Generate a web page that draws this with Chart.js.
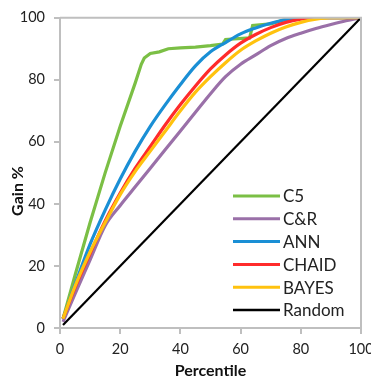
<!DOCTYPE html>
<html lang="en">
<head>
    <meta charset="UTF-8">
    <title>Gain chart</title>
    <script src="https://cdn.jsdelivr.net/npm/chart.js"></script>
    <style>
        body { margin: 0; background: #fff; }
    </style>
</head>
<body>
    <canvas id="myChart" width="371" height="378"></canvas>
    <script>
        // series labels
        const seriesNames = ['C5', 'C&R', 'ANN', 'CHAID', 'BAYES', 'Random'];

        // shared percentile grid for the smooth curves
        const percentiles = [1, 5, 10, 15, 20, 25, 30, 35, 40, 45, 50, 55, 60, 65, 70, 75, 80, 85, 90, 95, 100];
        const crGain    = [2, 11, 22, 33, 39.5, 45.5, 51.5, 57.5, 63.5, 69.5, 75.5, 81, 85, 88, 91, 93.3, 95, 96.5, 97.8, 99, 100];
        const annGain   = [3, 14, 27, 38, 48, 57, 65, 72, 78.5, 84.5, 89, 92, 94.8, 96.7, 98.2, 99.4, 100, 100, 100, 100, 100];
        const chaidGain = [3, 13, 24, 34.5, 43.5, 51.5, 58.5, 65.5, 72, 78, 83.5, 88, 91.8, 94.6, 96.8, 98.5, 99.5, 100, 100, 100, 100];
        const bayesGain = [3, 13.5, 24.5, 34, 43, 50.5, 57, 63.5, 70, 76, 81, 85.5, 89.5, 92.5, 95, 97, 98.5, 99.5, 100, 100, 100];

        // C5 has its own steps
        const c5Pct  = [1, 5, 10, 15, 20, 25, 27, 28, 30, 33, 36, 40, 45, 50, 54, 55, 63, 64, 70, 75, 80, 100];
        const c5Gain = [3, 17, 34, 50, 65, 79, 85, 87, 88.5, 89, 90, 90.3, 90.5, 91, 91.5, 93, 93.5, 97.5, 98, 99.5, 100, 100];

        const randomPct  = [1, 100];
        const randomGain = [1, 100];

        const xTicks = [0, 20, 40, 60, 80, 100];
        const yTicks = [0, 20, 40, 60, 80, 100];

        const colors = ['#7bbf45', '#9a70a8', '#1a8fd5', '#ff2b2b', '#ffc20e', '#000000'];

        function pts(xs, ys) {
            return xs.map((x, i) => ({ x: x, y: ys[i] }));
        }

        const seriesData = [
            pts(c5Pct, c5Gain),
            pts(percentiles, crGain),
            pts(percentiles, annGain),
            pts(percentiles, chaidGain),
            pts(percentiles, bayesGain),
            pts(randomPct, randomGain)
        ];

        const font = 'Lato, "Open Sans", sans-serif';

        // legend inside the plot + y title + frame
        const extras = {
            id: 'extras',
            afterDatasetsDraw(chart) {
                const ctx = chart.ctx;
                const a = chart.chartArea;
                ctx.save();
                ctx.strokeStyle = '#bfbfbf';
                ctx.lineWidth = 2;
                ctx.beginPath();
                ctx.moveTo(a.left, a.top);
                ctx.lineTo(a.right, a.top);
                ctx.lineTo(a.right, a.bottom);
                ctx.stroke();

                chart.data.datasets.forEach((ds, i) => {
                    const y = 196 + i * 22.8;
                    ctx.strokeStyle = ds.borderColor;
                    ctx.lineWidth = i === 5 ? 2.5 : 3;
                    ctx.beginPath();
                    ctx.moveTo(233, y);
                    ctx.lineTo(280, y);
                    ctx.stroke();
                    ctx.fillStyle = '#222';
                    ctx.font = '17px ' + font;
                    ctx.textBaseline = 'middle';
                    ctx.textAlign = 'left';
                    ctx.fillText(ds.label, 283, y + 1);
                });

                ctx.translate(18, 191);
                ctx.rotate(-Math.PI / 2);
                ctx.font = 'bold 16px ' + font;
                ctx.fillStyle = '#111';
                ctx.textAlign = 'center';
                ctx.textBaseline = 'middle';
                ctx.fillText('Gain %', 0, 0);
                ctx.restore();
            }
        };

        const ctx = document.getElementById('myChart');
        const myChart = new Chart(ctx, {
            type: 'line',
            data: {
                datasets: seriesNames.map((name, i) => ({
                    label: name,
                    data: seriesData[i],
                    borderColor: colors[i],
                    borderWidth: i === 5 ? 2.2 : 3.2,
                    pointRadius: 0,
                    fill: false,
                    tension: 0,
                    cubicInterpolationMode: (i === 0 || i === 5) ? 'default' : 'monotone',
                    order: 6 - i
                }))
            },
            options: {
                responsive: false,
                animation: false,
                events: [],
                layout: { padding: { top: 15, right: 10, left: 0, bottom: 0 } },
                plugins: {
                    legend: { display: false },
                    tooltip: { enabled: false }
                },
                scales: {
                    x: {
                        type: 'linear',
                        min: 0,
                        max: 100,
                        afterBuildTicks: (s) => { s.ticks = xTicks.map(v => ({ value: v })); },
                        afterFit: (s) => { s.height = 50; s.paddingLeft = 0; s.paddingRight = 0; },
                        ticks: { color: '#222', font: { family: font, size: 14.5 }, padding: 7, maxRotation: 0 },
                        grid: { drawOnChartArea: false, drawTicks: true, tickLength: 6, color: '#bfbfbf', lineWidth: 2 },
                        border: { color: '#bfbfbf', width: 2 },
                        title: {
                            display: true,
                            text: 'Percentile',
                            color: '#111',
                            font: { family: font, size: 16, weight: 'bold', lineHeight: 1 },
                            padding: { top: 0, bottom: -1 }
                        }
                    },
                    y: {
                        min: 0,
                        max: 100,
                        afterBuildTicks: (s) => { s.ticks = yTicks.map(v => ({ value: v })); },
                        afterFit: (s) => { s.width = 60; },
                        ticks: { color: '#222', font: { family: font, size: 14.5 }, padding: 9 },
                        grid: { drawOnChartArea: false, drawTicks: true, tickLength: 6, color: '#bfbfbf', lineWidth: 2 },
                        border: { color: '#bfbfbf', width: 2 }
                    }
                }
            },
            plugins: [extras]
        });
    </script>
</body>
</html>
